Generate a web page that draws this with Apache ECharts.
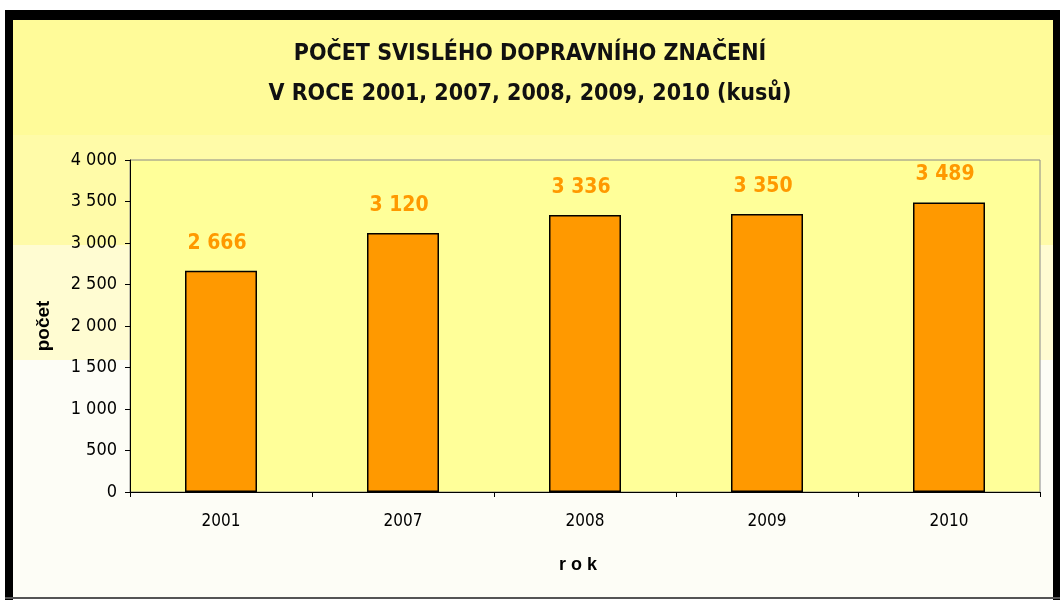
<!DOCTYPE html>
<html>
<head>
<meta charset="utf-8">
<script src="https://cdn.jsdelivr.net/npm/echarts@6/dist/echarts.min.js"></script>
<style>
  html, body { margin: 0; padding: 0; background: #fff; }
  #chart { width: 1060px; height: 603px; }
</style>
</head>
<body>
<div id="chart"></div>
<script>
// data
const years = ["2001", "2007", "2008", "2009", "2010"];
const counts = [2666, 3120, 3336, 3350, 3489];

// "2 666"
function fmt(v) {
  return String(v).replace(/\B(?=(\d{3})+(?!\d))/g, " ");
}

const narrow = "DejaVu Sans Condensed, Liberation Sans Narrow, sans-serif";

let myChart = echarts.init(document.getElementById("chart"));
let option = {
  backgroundColor: "#ffffff",
  animation: false,
  graphic: [
    {
      // pozadi s prechodem
      type: "rect",
      z: -10,
      shape: { x: 13, y: 20, width: 1040, height: 577 },
      style: {
        fill: {
          type: "linear", x: 0, y: 0, x2: 0, y2: 1,
          colorStops: [
            { offset: 0, color: "#fffb99" },
            { offset: 0.2, color: "#fffb99" },
            { offset: 0.2, color: "#fffba8" },
            { offset: 0.39, color: "#fffba8" },
            { offset: 0.39, color: "#fffcd2" },
            { offset: 0.59, color: "#fffcd2" },
            { offset: 0.59, color: "#fdfdf6" },
            { offset: 1, color: "#fdfdf6" }
          ]
        }
      }
    },
    // ramecek
    { type: "rect", z: 100, shape: { x: 5, y: 10, width: 1050, height: 10 }, style: { fill: "#000" } },
    { type: "rect", z: 100, shape: { x: 5, y: 10, width: 8, height: 590 }, style: { fill: "#000" } },
    { type: "rect", z: 100, shape: { x: 1053, y: 10, width: 7, height: 590 }, style: { fill: "#000" } },
    { type: "rect", z: 100, shape: { x: 5, y: 597, width: 1055, height: 2 }, style: { fill: "#555" } }
  ],
  title: {
    text: "POČET SVISLÉHO DOPRAVNÍHO ZNAČENÍ\nV ROCE 2001, 2007, 2008, 2009, 2010 (kusů)",
    left: "center",
    top: 29,
    textStyle: {
      fontFamily: narrow,
      fontWeight: "bold",
      fontSize: 23,
      lineHeight: 40,
      color: "#111"
    }
  },
  grid: {
    left: 130,
    right: 20,
    top: 160,
    bottom: 111,
    show: true,
    backgroundColor: "#ffff99",
    borderColor: "#888",
    borderWidth: 1
  },
  xAxis: {
    type: "category",
    data: years,
    name: "r o k",
    nameLocation: "middle",
    nameGap: 64,
    nameTextStyle: {
      fontFamily: "Liberation Sans, Arial, sans-serif",
      fontWeight: "bold",
      fontSize: 18,
      color: "#000",
      padding: [0, 14, 0, 0]
    },
    axisLine: { lineStyle: { color: "#000", width: 1 } },
    axisTick: { show: true, alignWithLabel: false, length: 5, lineStyle: { color: "#000" } },
    axisLabel: {
      margin: 21,
      fontFamily: narrow,
      fontSize: 17,
      color: "#000"
    }
  },
  yAxis: {
    type: "value",
    min: 0,
    max: 4000,
    interval: 500,
    name: "počet",
    nameLocation: "middle",
    nameGap: 77,
    nameRotate: 90,
    nameTextStyle: {
      fontFamily: "Liberation Sans, Arial, sans-serif",
      fontWeight: "bold",
      fontSize: 19,
      color: "#000"
    },
    splitLine: { show: false },
    axisLine: { show: true, lineStyle: { color: "#000", width: 1 } },
    axisTick: { show: true, length: 5, lineStyle: { color: "#000" } },
    axisLabel: {
      margin: 13,
      fontFamily: narrow,
      fontSize: 18,
      color: "#000",
      formatter: v => fmt(v)
    }
  },
  series: [
    {
      name: "počet",
      type: "bar",
      data: counts,
      barWidth: 72,
      itemStyle: {
        color: "#ff9900",
        borderColor: "#000",
        borderWidth: 1.5
      },
      label: {
        show: true,
        position: "top",
        distance: 17,
        formatter: p => fmt(p.value),
        fontFamily: narrow,
        fontWeight: "bold",
        fontSize: 21,
        color: "#ff9900",
        padding: [0, 8, 0, 0]
      }
    }
  ]
};
myChart.setOption(option);
</script>
</body>
</html>
